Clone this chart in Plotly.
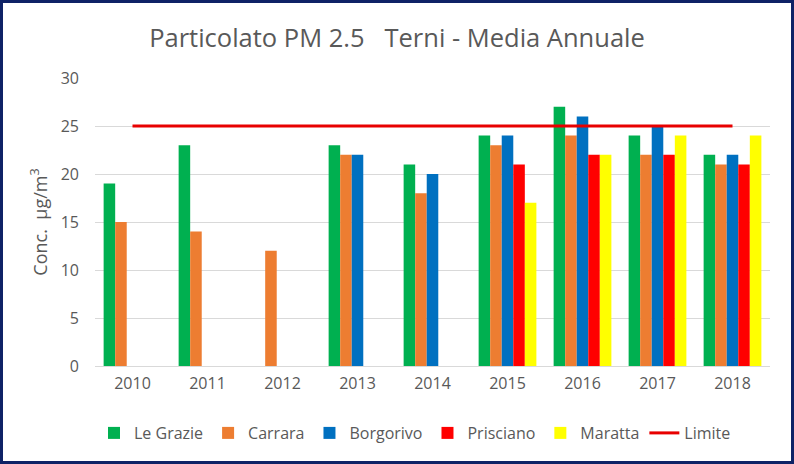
import plotly.graph_objects as go

years = ["2010", "2011", "2012", "2013", "2014", "2015", "2016", "2017", "2018"]
le_grazie = [19, 23, None, 23, 21, 24, 27, 24, 22]
carrara = [15, 14, 12, 22, 18, 23, 24, 22, 21]
borgorivo = [None, None, None, 22, 20, 24, 26, 25, 22]
prisciano = [None, None, None, None, None, 21, 22, 22, 21]
maratta = [None, None, None, None, None, 17, 22, 24, 24]
limite = [25] * len(years)

series = [
    ("Le Grazie", le_grazie, "#00B050"),
    ("Carrara", carrara, "#ED7D31"),
    ("Borgorivo", borgorivo, "#0070C0"),
    ("Prisciano", prisciano, "#FF0000"),
    ("Maratta", maratta, "#FFFF00"),
]

FONT = "'Open Sans', sans-serif"
TXT = "#595959"
fig = go.Figure()
for name, vals, col in series:
    fig.add_trace(go.Bar(name=name, x=years, y=vals, marker=dict(color=col, line=dict(width=0))))
fig.add_trace(go.Scatter(name="Limite", x=years, y=limite, mode="lines",
                         line=dict(color="#E80000", width=3)))

W, H = 794, 464
ml, mr, mt, mb = 95, 24, 78, 98
pw, ph = W - ml - mr, H - mt - mb

def px_x(p):
    return (p - ml) / pw

def px_y(p):
    return (H - mb - p) / ph

fig.update_layout(
    width=W, height=H,
    margin=dict(l=ml, r=mr, t=mt, b=mb, autoexpand=False),
    paper_bgcolor="white", plot_bgcolor="white",
    barmode="group", bargap=0.23, bargroupgap=0,
    font=dict(family=FONT, color=TXT, size=16),
    title=dict(text="Particolato PM 2.5   Terni - Media Annuale", x=397 / W, xref="container",
               xanchor="center", y=1 - 38 / H, yanchor="middle",
               font=dict(size=25.5, color=TXT, family=FONT)),
    xaxis=dict(type="category", showgrid=False, showline=False, ticks="",
               tickfont=dict(size=16, color=TXT), ticklabelstandoff=6),
    yaxis=dict(range=[0, 30], dtick=5, showgrid=True, gridcolor="#D9D9D9", gridwidth=1,
               zeroline=True, zerolinecolor="#D9D9D9", zerolinewidth=1, showline=False,
               tickfont=dict(size=16, color=TXT), ticklabelstandoff=15,
               title=dict(text="Conc.  µg/m<sup>3</sup>", font=dict(size=18, color=TXT), standoff=8)),
    legend=dict(orientation="h", xref="container", yref="container",
                x=415 / W, xanchor="center", y=1 - 433 / H, yanchor="middle",
                font=dict(size=16, color=TXT), itemwidth=30, tracegroupgap=0),
    showlegend=True,
    shapes=[dict(type="rect", xref="paper", yref="paper",
                 x0=px_x(1.5), x1=px_x(792.5), y0=px_y(462.5), y1=px_y(1.5),
                 line=dict(color="#0E2266", width=3), fillcolor="rgba(0,0,0,0)", layer="above")],
)

fig.write_html("out.html", config={"displayModeBar": False},
               post_script="document.body.style.margin='0';document.body.style.overflow='hidden';")
